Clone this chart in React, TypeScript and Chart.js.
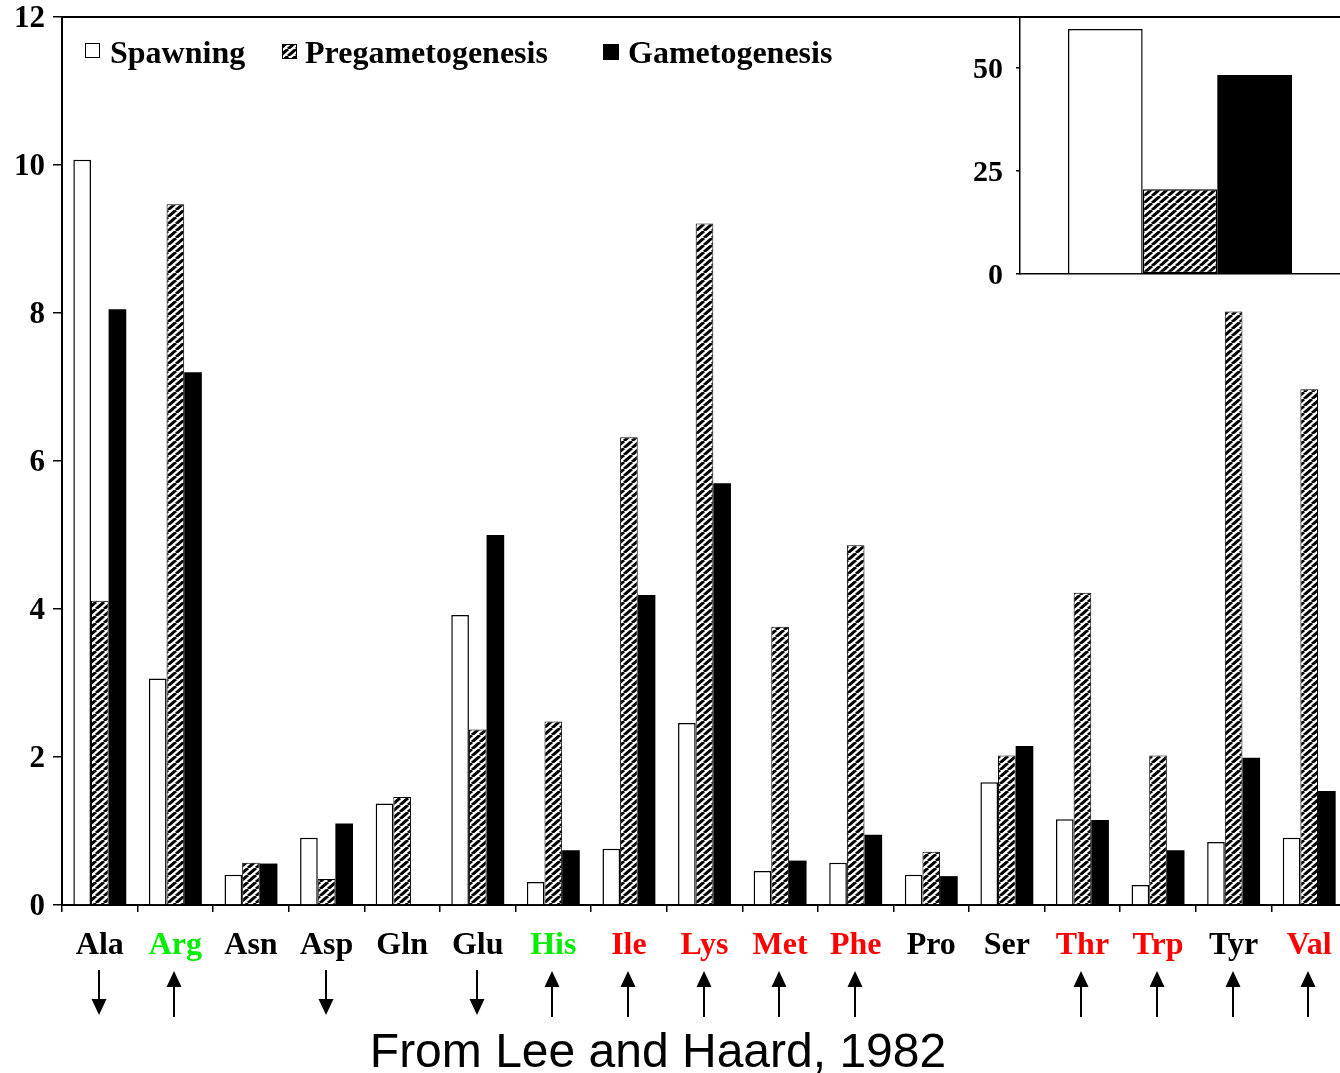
import { useEffect, useRef } from 'react';
import { Chart, registerables } from 'chart.js';

Chart.register(...registerables);

// ---------- data ----------
const categories = ['Ala', 'Arg', 'Asn', 'Asp', 'Gln', 'Glu', 'His', 'Ile', 'Lys', 'Met', 'Phe', 'Pro', 'Ser', 'Thr', 'Trp', 'Tyr', 'Val'];
const spawning = [10.07, 3.06, 0.41, 0.91, 1.37, 3.92, 0.31, 0.76, 2.46, 0.46, 0.57, 0.41, 1.66, 1.16, 0.27, 0.85, 0.91];
const pregametogenesis = [4.11, 9.47, 0.57, 0.35, 1.46, 2.37, 2.48, 6.32, 9.21, 3.76, 4.86, 0.72, 2.02, 4.22, 2.02, 8.02, 6.97];
const gametogenesis = [8.05, 7.2, 0.56, 1.1, null, 5.0, 0.74, 4.19, 5.7, 0.6, 0.95, 0.39, 2.15, 1.15, 0.74, 1.99, 1.54];
const labelColors = ['#000000', '#00ee00', '#000000', '#000000', '#000000', '#000000', '#00ee00', '#ff0000', '#ff0000', '#ff0000', '#ff0000', '#000000', '#000000', '#ff0000', '#ff0000', '#000000', '#ff0000'];
const trends = ['down', 'up', '', 'down', '', 'down', 'up', 'up', 'up', 'up', 'up', '', '', 'up', 'up', 'up', 'up'];
const yTicks = [0, 2, 4, 6, 8, 10, 12];
const seriesNames = ['Spawning', 'Pregametogenesis', 'Gametogenesis'];

const insetCategories = ['Total'];
const insetSpawning = [59.5];
const insetPregametogenesis = [20.6];
const insetGametogenesis = [48.3];
const insetTicks = [0, 25, 50];

const sourceText = 'From Lee and Haard, 1982';

const SERIF = '"Liberation Serif", "Times New Roman", serif';

function makeHatch(): CanvasPattern | string {
  const w = 8;
  const h = 7;
  const c = document.createElement('canvas');
  c.width = w;
  c.height = h;
  const g = c.getContext('2d');
  if (!g) return '#888';
  g.fillStyle = '#ffffff';
  g.fillRect(0, 0, w, h);
  g.strokeStyle = '#000000';
  g.lineWidth = 3;
  for (const k of [-1, 0, 1]) {
    g.beginPath();
    g.moveTo(k * w, h);
    g.lineTo(k * w + w, 0);
    g.stroke();
  }
  const p = g.createPattern(c, 'repeat');
  return p || '#888';
}

export default function App() {
  const mainRef = useRef<HTMLCanvasElement | null>(null);
  const insetRef = useRef<HTMLCanvasElement | null>(null);

  useEffect(() => {
    if (!mainRef.current || !insetRef.current) return;
    const hatch = makeHatch();

    const overlay = {
      id: 'overlay',
      afterDraw(chart: any) {
        const { ctx, chartArea, scales } = chart;
        ctx.save();
        // top frame line
        ctx.strokeStyle = '#000';
        ctx.lineWidth = 2;
        ctx.beginPath();
        ctx.moveTo(chartArea.left, chartArea.top);
        ctx.lineTo(chartArea.right, chartArea.top);
        ctx.stroke();

        // legend
        ctx.font = `bold 32px ${SERIF}`;
        ctx.textBaseline = 'alphabetic';
        ctx.textAlign = 'left';
        const boxes = [
          { x: 85, y: 43, s: 15, text: 110 },
          { x: 282, y: 44, s: 15, text: 305 },
          { x: 603, y: 44, s: 16, text: 628 },
        ];
        boxes.forEach((b, i) => {
          if (i === 0) {
            ctx.fillStyle = '#fff';
            ctx.fillRect(b.x, b.y, b.s, b.s);
            ctx.lineWidth = 1;
            ctx.strokeStyle = '#000';
            ctx.strokeRect(b.x + 0.5, b.y + 0.5, b.s - 1, b.s - 1);
          } else if (i === 1) {
            ctx.fillStyle = hatch as any;
            ctx.fillRect(b.x, b.y, b.s, b.s);
            ctx.lineWidth = 1;
            ctx.strokeStyle = '#000';
            ctx.strokeRect(b.x + 0.5, b.y + 0.5, b.s - 1, b.s - 1);
          } else {
            ctx.fillStyle = '#000';
            ctx.fillRect(b.x, b.y, b.s, b.s);
          }
          ctx.fillStyle = '#000';
          ctx.fillText(seriesNames[i], b.text, 63);
        });

        // arrows
        const xs = scales.x;
        ctx.fillStyle = '#000';
        ctx.strokeStyle = '#000';
        ctx.lineWidth = 2;
        trends.forEach((t, i) => {
          if (!t) return;
          const cx = Math.round(xs.getPixelForValue(i)) - 1;
          const hw = 7.5;
          if (t === 'up') {
            ctx.beginPath();
            ctx.moveTo(cx, 984);
            ctx.lineTo(cx, 1017);
            ctx.stroke();
            ctx.beginPath();
            ctx.moveTo(cx, 971);
            ctx.lineTo(cx - hw, 987);
            ctx.lineTo(cx + hw, 987);
            ctx.closePath();
            ctx.fill();
          } else {
            ctx.beginPath();
            ctx.moveTo(cx, 970);
            ctx.lineTo(cx, 1002);
            ctx.stroke();
            ctx.beginPath();
            ctx.moveTo(cx, 1015);
            ctx.lineTo(cx - hw, 999);
            ctx.lineTo(cx + hw, 999);
            ctx.closePath();
            ctx.fill();
          }
        });
        ctx.restore();
      },
    };

    const main = new Chart(mainRef.current, {
      type: 'bar',
      data: {
        labels: categories,
        datasets: [
          { label: seriesNames[0], data: spawning, backgroundColor: '#ffffff', borderColor: '#000000', borderWidth: 1.5, borderSkipped: 'start' },
          { label: seriesNames[1], data: pregametogenesis, backgroundColor: hatch as any, borderColor: '#000000', borderWidth: 1, borderSkipped: 'start' },
          { label: seriesNames[2], data: gametogenesis as any, backgroundColor: '#000000', borderColor: '#000000', borderWidth: 0 },
        ],
      },
      options: {
        animation: false,
        responsive: false,
        devicePixelRatio: 1,
        layout: { padding: { left: 0, top: 17, right: 13, bottom: 0 } },
        plugins: { legend: { display: false }, tooltip: { enabled: false }, title: { display: false } },
        datasets: { bar: { categoryPercentage: 0.7, barPercentage: 1 } },
        scales: {
          x: {
            type: 'category',
            grid: { display: true, drawOnChartArea: false, drawTicks: true, tickLength: 7, color: '#000', lineWidth: 1.5, offset: true },
            border: { display: true, color: '#000', width: 2 },
            ticks: {
              color: (c: any) => labelColors[c.index] || '#000',
              font: { family: SERIF, size: 32, weight: 'bold' },
              padding: 15,
              maxRotation: 0,
              autoSkip: false,
            },
            afterFit: (s: any) => {
              s.height = 168;
              s.paddingLeft = 0;
              s.paddingRight = 0;
            },
          },
          y: {
            min: 0,
            max: 12,
            afterBuildTicks: (s: any) => {
              s.ticks = yTicks.map((v) => ({ value: v }));
            },
            ticks: { color: '#000', font: { family: SERIF, size: 31, weight: 'bold' }, padding: 8, labelOffset: 2 },
            grid: { display: true, drawOnChartArea: false, tickLength: 9, color: '#000', lineWidth: 1.5 },
            border: { display: true, color: '#000', width: 2 },
            afterFit: (s: any) => {
              s.width = 62;
              s.paddingTop = 0;
              s.paddingBottom = 0;
            },
          },
        },
      } as any,
      plugins: [overlay],
    });

    const inset = new Chart(insetRef.current, {
      type: 'bar',
      data: {
        labels: insetCategories,
        datasets: [
          { label: seriesNames[0], data: insetSpawning, backgroundColor: '#ffffff', borderColor: '#000000', borderWidth: 1.5, borderSkipped: 'start' },
          { label: seriesNames[1], data: insetPregametogenesis, backgroundColor: hatch as any, borderColor: '#000000', borderWidth: 1.5, borderSkipped: false },
          { label: seriesNames[2], data: insetGametogenesis, backgroundColor: '#000000', borderWidth: 0 },
        ],
      },
      options: {
        animation: false,
        responsive: false,
        devicePixelRatio: 1,
        layout: { padding: { left: 0, top: 17, right: 0, bottom: 26 } },
        plugins: { legend: { display: false }, tooltip: { enabled: false } },
        datasets: { bar: { categoryPercentage: 0.7, barPercentage: 1 } },
        scales: {
          x: {
            grid: { display: false },
            border: { display: true, color: '#000', width: 1.5 },
            ticks: { display: false },
            afterFit: (s: any) => {
              s.height = 0;
              s.paddingLeft = 0;
              s.paddingRight = 0;
            },
          },
          y: {
            min: 0,
            max: 62.4,
            afterBuildTicks: (s: any) => {
              s.ticks = insetTicks.map((v) => ({ value: v }));
            },
            ticks: { color: '#000', font: { family: SERIF, size: 30, weight: 'bold' }, padding: 13, labelOffset: 2 },
            grid: { display: true, drawOnChartArea: false, tickLength: 4, color: '#000', lineWidth: 1.5 },
            border: { display: true, color: '#000', width: 1.5 },
            afterFit: (s: any) => {
              s.width = 60;
              s.paddingTop = 0;
              s.paddingBottom = 0;
            },
          },
        },
      } as any,
    });

    return () => {
      main.destroy();
      inset.destroy();
    };
  }, []);

  return (
    <div style={{ position: 'absolute', left: 0, top: 0, width: 1340, height: 1073, overflow: 'hidden', background: '#ffffff' }}>
      <canvas ref={mainRef} width={1360} height={1073} style={{ position: 'absolute', left: 0, top: 0, width: 1360, height: 1073 }} />
      <canvas ref={insetRef} width={380} height={300} style={{ position: 'absolute', left: 960, top: 0, width: 380, height: 300 }} />
      <div
        style={{
          position: 'absolute',
          left: 0,
          width: 1316,
          top: 1027,
          textAlign: 'center',
          fontFamily: '"Liberation Sans", Arial, sans-serif',
          fontSize: 48,
          lineHeight: '48px',
          color: '#000',
          whiteSpace: 'nowrap',
        }}
      >
        {sourceText}
      </div>
    </div>
  );
}
